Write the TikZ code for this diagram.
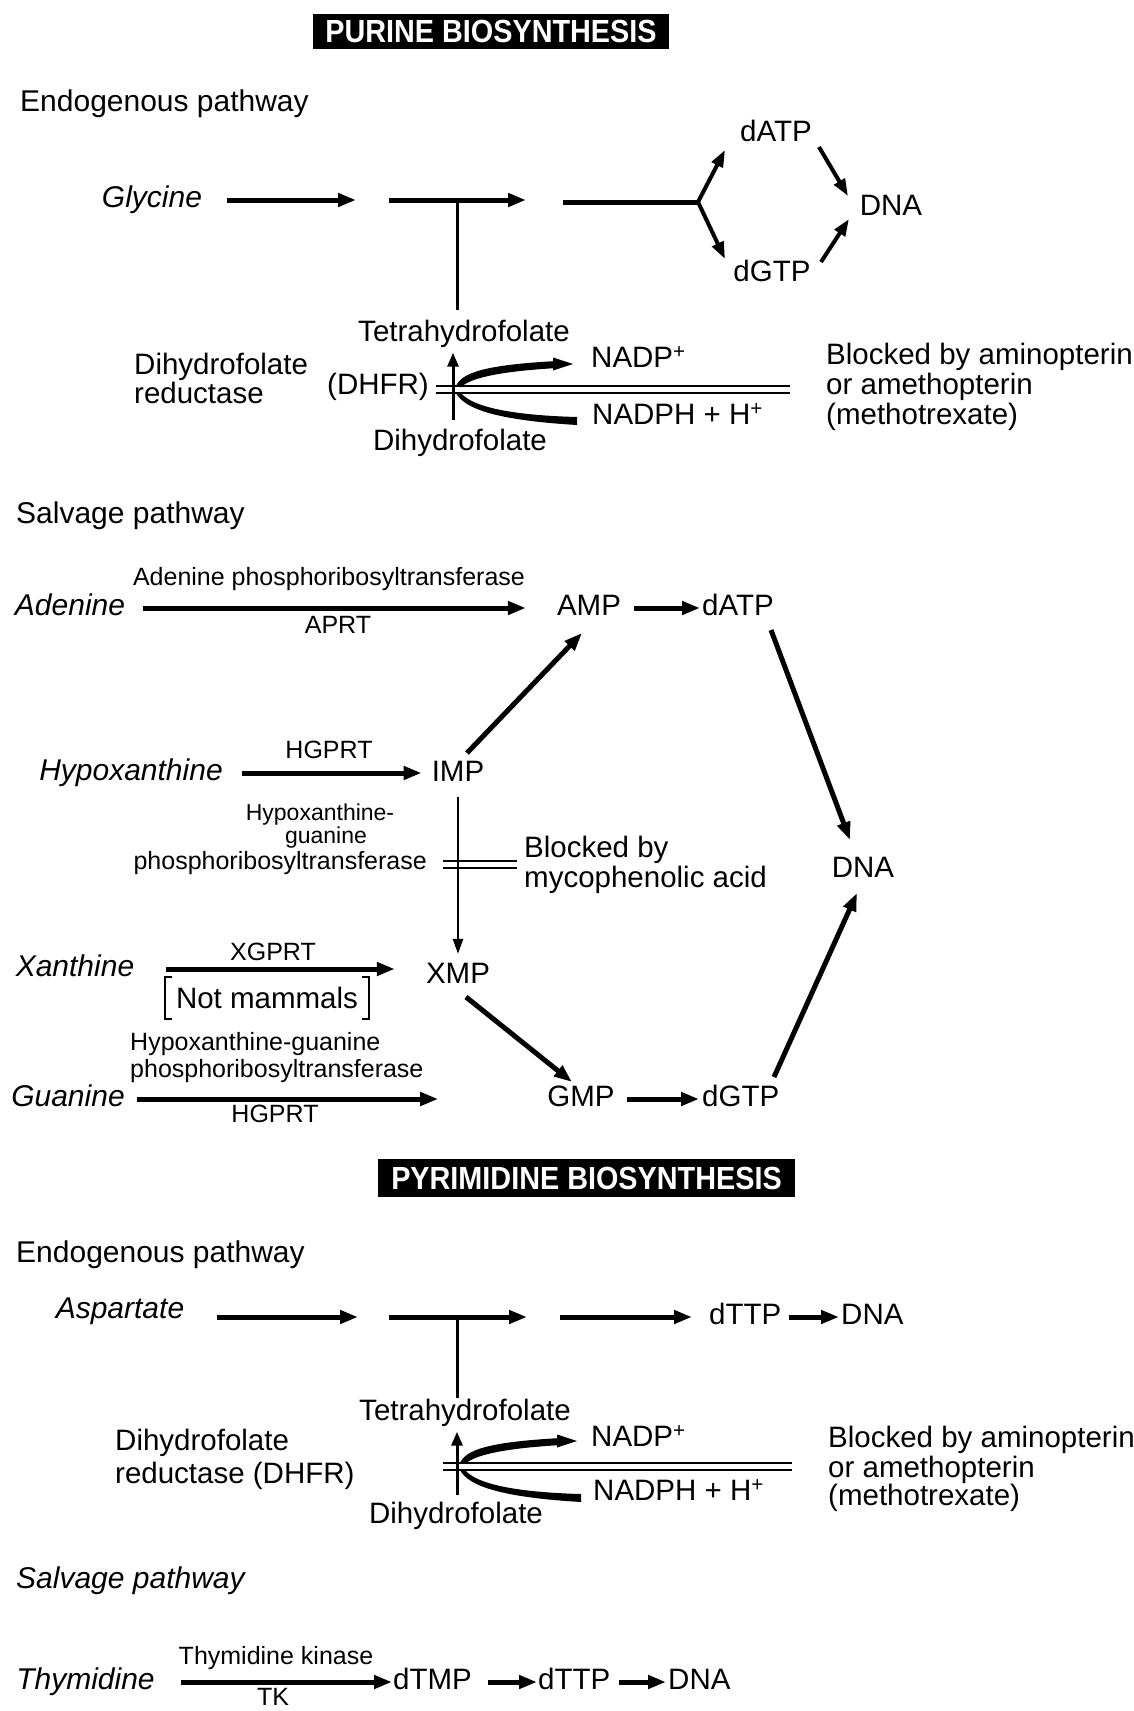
\documentclass[tikz,border=0pt]{standalone}
\usepackage{fontspec}
\setmainfont{Liberation Sans}
\usepackage{graphicx}
\usetikzlibrary{arrows.meta,calc}
\begin{document}
\fontsize{28}{32}\selectfont%
\begin{tikzpicture}[x=1pt,y=-1pt,
  lab/.style={inner sep=0pt,font=\fontsize{29.5}{34}\selectfont},
  spec/.style={inner sep=0pt,font=\fontsize{30}{34}\selectfont\itshape},
  head/.style={inner sep=0pt,font=\fontsize{30}{34}\selectfont},
  enz/.style={inner sep=0pt,font=\fontsize{25}{29}\selectfont},
  enzs/.style={inner sep=0pt,font=\fontsize{23}{27}\selectfont},
  titlebox/.style={fill=black,text=white,inner sep=0pt,font=\bfseries\fontsize{32}{36}\selectfont},
  rxn/.style={line width=5pt,-{Triangle[length=18pt,width=13pt]}},
  branch/.style={line width=4pt,-{Triangle[length=17pt,width=12pt]}},
  stem/.style={line width=3pt},
  varrow/.style={line width=3pt,-{Triangle[length=14pt,width=11pt]}},
  thinarrow/.style={line width=2.5pt,-{Triangle[length=15pt,width=10pt]}},
  block/.style={line width=1.6pt},
  bracket/.style={line width=2pt}
]
\fill[white] (0,0) rectangle (1134,1711);
\useasboundingbox (0,0) rectangle (1134,1711);

%================ PURINE =================
\node[titlebox,minimum width=356pt,minimum height=35pt] (title1) at (491,31) {\scalebox{0.9}[1]{PURINE BIOSYNTHESIS}};
\node[head,anchor=mid west] (endo1) at (20,104) {Endogenous pathway};
\node[spec,anchor=mid] (gly) at (152,200) {Glycine};
\node[lab,anchor=mid] (datp1) at (776,134) {dATP};
\node[lab,anchor=mid] (dgtp1) at (772,274) {dGTP};
\node[lab,anchor=mid] (dna1) at (891,208) {DNA};

\coordinate (s1) at (356,200);
\coordinate (s1b) at (389,200);
\coordinate (s2) at (526,200);
\coordinate (tj1) at (457,200);
\coordinate (s3) at (563,202);
\coordinate (fork1) at (698,202);
\coordinate (fu) at (725,150);
\coordinate (fd) at (725,259);
\coordinate (dao) at (819,147);
\coordinate (dni1) at (848,196);
\coordinate (dgo) at (821,262);
\coordinate (dni2) at (849,219);

% DHFR block (purine)
\coordinate (B1) at (453,386);
\node[lab,anchor=mid] (thf1) at (464,334) {Tetrahydrofolate};
\node[lab,anchor=mid west] (dr1a) at (134,367) {Dihydrofolate};
\node[lab,anchor=mid west] (dr1b) at (134,396) {reductase};
\node[lab,anchor=mid] (dhfr1) at (378,387) {(DHFR)};
\node[lab,anchor=mid west] (nadp1) at (591,360) {NADP\textsuperscript{+}};
\node[lab,anchor=mid west] (nadph1) at (592,417) {NADPH + H\textsuperscript{+}};
\node[lab,anchor=mid west] (bl1a) at (826,357) {Blocked by aminopterin};
\node[lab,anchor=mid west] (bl1b) at (826,387) {or amethopterin};
\node[lab,anchor=mid west] (bl1c) at (826,417) {(methotrexate)};
\node[lab,anchor=mid] (dhf1) at (460,443) {Dihydrofolate};

\draw[rxn,shorten <=25pt] (gly.mid east) -- (s1);
\draw[rxn] (s1b) -- (s2);
\draw[stem,shorten <=10pt] (tj1 |- thf1.north) -- (tj1);
\draw[line width=5pt] (s3) -- (fork1);
\draw[branch] (fork1) -- (fu);
\draw[branch] (fork1) -- (fd);
\draw[branch] (dao) -- (dni1);
\draw[branch] (dgo) -- (dni2);

\draw[varrow,shorten <=9pt,shorten >=5pt] (B1 |- dhf1.north) -- (B1 |- thf1.south);
\begin{scope}[shift={(B1)}]
  \fill (3,0) .. controls (9,-13) and (30,-21) .. (104,-25) -- (104,-18) .. controls (36,-14) and (16,-6) .. (8,1) -- cycle;
  \fill (100,-28.5) -- (120,-22) -- (100,-15.5) -- cycle;
  \fill (3,7) .. controls (11,22) and (40,34) .. (124,39) -- (124,31) .. controls (50,29) and (18,19) .. (8,7) -- cycle;
  \draw[block] (-17,0) -- (337,0) (-17,7) -- (337,7);
\end{scope}

% Salvage (purine)
\node[head,anchor=mid west] (salv1) at (16,516) {Salvage pathway};
\node[spec,anchor=mid] (ade) at (70,608) {Adenine};
\node[enz,anchor=mid] (aprtname) at (329,578) {Adenine phosphoribosyltransferase};
\node[enz,anchor=mid] (aprt) at (338,626) {APRT};
\node[lab,anchor=mid] (amp) at (589,608) {AMP};
\node[lab,anchor=mid west] (datp2) at (702,608) {dATP};
\node[lab,anchor=mid] (dna2) at (863,870) {DNA};
\node[spec,anchor=mid] (hyp) at (131,773) {Hypoxanthine};
\node[enz,anchor=mid] (hgprt1) at (329,751) {HGPRT};
\node[lab,anchor=mid] (imp) at (458,774) {IMP};
\node[enzs,anchor=mid] (hg1) at (320,813) {Hypoxanthine-};
\node[enzs,anchor=mid] (hg2) at (326,836) {guanine};
\node[enz,anchor=mid east] (hg3) at (427,862) {phosphoribosyltransferase};
\node[lab,anchor=mid west] (bm1) at (524,850) {Blocked by};
\node[lab,anchor=mid west] (bm2) at (524,880) {mycophenolic acid};
\node[spec,anchor=mid] (xan) at (75,969) {Xanthine};
\node[enz,anchor=mid] (xgprt) at (273,953) {XGPRT};
\node[lab,anchor=mid] (xmp) at (458,976) {XMP};
\node[lab,inner xsep=11pt,inner ysep=10pt] (nm) at (267,998) {Not mammals};
\node[enz,anchor=mid west] (hgg1) at (130,1043) {Hypoxanthine-guanine};
\node[enz,anchor=mid west] (hgg2) at (130,1070) {phosphoribosyltransferase};
\node[spec,anchor=mid] (gua) at (68,1099) {Guanine};
\node[enz,anchor=mid] (hgprt2) at (275,1115) {HGPRT};
\node[lab,anchor=mid] (gmp) at (581,1099) {GMP};
\node[lab,anchor=mid west] (dgtp2) at (702,1099) {dGTP};

\coordinate (impo) at (467,753);
\coordinate (ampi) at (582,633);
\coordinate (datpo) at (771,630);
\coordinate (dnai1) at (850,840);
\coordinate (xmpo) at (466,997);
\coordinate (gmpi) at (572,1082);
\coordinate (dgtpo) at (774,1077);
\coordinate (dnai2) at (857,893);
\coordinate (M1) at (458,861);

\draw[rxn,shorten <=18pt,shorten >=31pt] (ade.mid east) -- (amp.mid west);
\draw[rxn,shorten <=13pt,shorten >=2pt] (amp.mid east) -- (datp2.mid west);
\draw[rxn,shorten <=19pt,shorten >=10pt] (hyp.mid east) -- (imp.mid west |- hyp.mid east);
\draw[rxn,shorten <=32pt,shorten >=31pt] (xan.mid east) -- (xmp.mid west |- xan.mid east);
\draw[rxn,shorten <=12pt,shorten >=109pt] (gua.mid east) -- (gmp.mid west);
\draw[rxn,shorten <=12pt,shorten >=3pt] (gmp.mid east) -- (dgtp2.mid west);
\draw[rxn] (impo) -- (ampi);
\draw[rxn] (datpo) -- (dnai1);
\draw[rxn] (xmpo) -- (gmpi);
\draw[rxn] (dgtpo) -- (dnai2);
\draw[thinarrow,shorten <=15pt,shorten >=9pt] (imp.south) -- (xmp.north);
\draw[block] ($(M1)+(-15,0)$) -- ($(M1)+(59,0)$) ($(M1)+(-15,7)$) -- ($(M1)+(59,7)$);
\draw[bracket] ([xshift=7pt]nm.north west) -- (nm.north west) -- (nm.south west) -- ([xshift=7pt]nm.south west);
\draw[bracket] ([xshift=-7pt]nm.north east) -- (nm.north east) -- (nm.south east) -- ([xshift=-7pt]nm.south east);

%================ PYRIMIDINE =================
\node[titlebox,minimum width=417pt,minimum height=38pt] (title2) at (586.5,1178) {\scalebox{0.9}[1]{PYRIMIDINE BIOSYNTHESIS}};
\node[head,anchor=mid west] (endo2) at (16,1255) {Endogenous pathway};
\node[spec,anchor=mid] (asp) at (120,1311) {Aspartate};
\node[lab,anchor=mid west] (dttp1) at (709,1317) {dTTP};
\node[lab,anchor=mid west] (dna3) at (841,1317) {DNA};

\coordinate (p1) at (358,1317);
\coordinate (p2a) at (389,1317);
\coordinate (p2) at (527,1317);
\coordinate (tj2) at (457,1317);
\coordinate (p3a) at (560,1317);

\node[lab,anchor=mid] (thf2) at (465,1413) {Tetrahydrofolate};
\node[lab,anchor=mid west] (dr2a) at (115,1443) {Dihydrofolate};
\node[lab,anchor=mid west] (dr2b) at (115,1476) {reductase (DHFR)};
\coordinate (B2) at (457,1463);
\node[lab,anchor=mid west] (nadp2) at (591,1439) {NADP\textsuperscript{+}};
\node[lab,anchor=mid west] (nadph2) at (593,1493) {NADPH + H\textsuperscript{+}};
\node[lab,anchor=mid west] (bl2a) at (828,1440) {Blocked by aminopterin};
\node[lab,anchor=mid west] (bl2b) at (828,1470) {or amethopterin};
\node[lab,anchor=mid west] (bl2c) at (828,1498) {(methotrexate)};
\node[lab,anchor=mid] (dhf2) at (456,1516) {Dihydrofolate};

\draw[rxn,shorten <=33pt] (asp.mid east |- p1) -- (p1);
\draw[rxn] (p2a) -- (p2);
\draw[stem,shorten <=1pt] (tj2 |- thf2.north) -- (tj2);
\draw[rxn,shorten >=17pt] (p3a) -- (dttp1.mid west);
\draw[rxn,shorten <=7pt,shorten >=2pt] (dttp1.mid east) -- (dna3.mid west);

\draw[varrow,shorten <=7pt,shorten >=5pt] (B2 |- dhf2.north) -- (B2 |- thf2.south);
\begin{scope}[shift={(B2)}]
  \fill (3,0) .. controls (9,-13) and (30,-21) .. (104,-25) -- (104,-18) .. controls (36,-14) and (16,-6) .. (8,1) -- cycle;
  \fill (100,-28.5) -- (120,-22) -- (100,-15.5) -- cycle;
  \fill (3,7) .. controls (11,22) and (40,34) .. (124,39) -- (124,31) .. controls (50,29) and (18,19) .. (8,7) -- cycle;
  \draw[block] (-14,0) -- (335,0) (-14,7) -- (335,7);
\end{scope}

% Salvage (pyrimidine)
\node[spec,anchor=mid west] (salv2) at (16,1581) {Salvage pathway};
\node[spec,anchor=mid] (thy) at (85.5,1682) {Thymidine};
\node[enz,anchor=mid] (tkname) at (276,1657) {Thymidine kinase};
\node[enz,anchor=mid] (tk) at (273,1698) {TK};
\node[lab,anchor=mid west] (dtmp) at (393,1682) {dTMP};
\node[lab,anchor=mid west] (dttp2) at (538,1682) {dTTP};
\node[lab,anchor=mid west] (dna4) at (668,1682) {DNA};

\draw[rxn,shorten <=26pt,shorten >=1pt] (thy.mid east) -- (dtmp.mid west);
\draw[rxn,shorten <=16pt,shorten >=1pt] (dtmp.mid east) -- (dttp2.mid west);
\draw[rxn,shorten <=8pt,shorten >=2pt] (dttp2.mid east) -- (dna4.mid west);
\end{tikzpicture}
\end{document}
